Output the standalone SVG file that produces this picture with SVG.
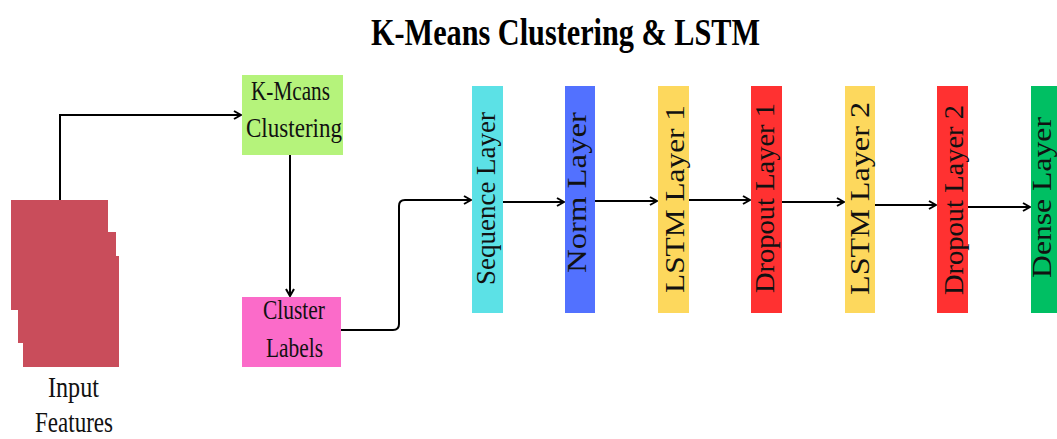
<svg xmlns="http://www.w3.org/2000/svg" width="1057" height="439" viewBox="0 0 1057 439">
  <defs>
    <marker id="arrow" viewBox="0 0 10 10" refX="9" refY="5" markerWidth="10" markerHeight="10" markerUnits="userSpaceOnUse" orient="auto">
      <path d="M2,1 L9,5 L2,9" fill="none" stroke="#000" stroke-width="2"/>
    </marker>
  </defs>
  <style>
    .lbl { font-family: "Liberation Serif", "Times New Roman", serif; fill: #111; }
    .title { font-family: "Liberation Serif", "Times New Roman", serif; font-weight: bold; font-size: 38px; fill: #000; }
    .conn { fill: none; stroke: #000; stroke-width: 2; marker-end: url(#arrow); }
    .vt { font-size: 27px; }
    .bx { font-size: 27px; }
  </style>

  <rect width="1057" height="439" fill="#fff"/>

  <text class="title" x="371" y="45" textLength="389" lengthAdjust="spacingAndGlyphs">K-Means Clustering &amp; LSTM</text>

  <!-- input feature stack -->
  <g id="input-features">
    <rect x="11" y="200" width="97" height="110" fill="#c94d5b"/>
    <rect x="18" y="232" width="98" height="111" fill="#c94d5b"/>
    <rect x="23" y="256" width="96" height="111" fill="#c94d5b"/>
    <text class="lbl" x="48" y="397" font-size="29" textLength="51" lengthAdjust="spacingAndGlyphs">Input</text>
    <text class="lbl" x="35" y="432" font-size="29" textLength="78" lengthAdjust="spacingAndGlyphs">Features</text>
  </g>

  <g id="kmeans">
    <rect x="242" y="75" width="101" height="80" fill="#b5f37b"/>
    <text class="lbl bx" x="251" y="100" textLength="79" lengthAdjust="spacingAndGlyphs">K-Mcans</text>
    <text class="lbl bx" x="246" y="137" textLength="96" lengthAdjust="spacingAndGlyphs">Clustering</text>
  </g>

  <g id="cluster-labels">
    <rect x="242" y="297" width="99" height="70" fill="#fb6bc9"/>
    <text class="lbl bx" x="263" y="319" textLength="62" lengthAdjust="spacingAndGlyphs">Cluster</text>
    <text class="lbl bx" x="266" y="357" textLength="57" lengthAdjust="spacingAndGlyphs">Labels</text>
  </g>

  <!-- network layers -->
  <g id="sequence-layer">
    <rect x="472" y="86" width="31" height="227" fill="#5ce1e6"/>
    <text class="lbl vt" transform="translate(495,285) rotate(-90)" textLength="173" lengthAdjust="spacingAndGlyphs">Sequence Layer</text>
  </g>
  <g id="norm-layer">
    <rect x="565" y="86" width="30" height="227" fill="#5271ff"/>
    <text class="lbl vt" transform="translate(586,273) rotate(-90)" textLength="161" lengthAdjust="spacingAndGlyphs">Norm Layer</text>
  </g>
  <g id="lstm-layer-1">
    <rect x="658" y="86" width="31" height="227" fill="#fdd85d"/>
    <text class="lbl vt" transform="translate(684,293) rotate(-90)" textLength="188" lengthAdjust="spacingAndGlyphs">LSTM Layer 1</text>
  </g>
  <g id="dropout-layer-1">
    <rect x="751" y="86" width="31" height="227" fill="#ff3131"/>
    <text class="lbl vt" transform="translate(774,293) rotate(-90)" textLength="190" lengthAdjust="spacingAndGlyphs">Dropout Layer 1</text>
  </g>
  <g id="lstm-layer-2">
    <rect x="845" y="86" width="30" height="227" fill="#fdd85d"/>
    <text class="lbl vt" transform="translate(869,295) rotate(-90)" textLength="193" lengthAdjust="spacingAndGlyphs">LSTM Layer 2</text>
  </g>
  <g id="dropout-layer-2">
    <rect x="937" y="86" width="31" height="227" fill="#ff3131"/>
    <text class="lbl vt" transform="translate(963,295) rotate(-90)" textLength="190" lengthAdjust="spacingAndGlyphs">Dropout Layer 2</text>
  </g>
  <g id="dense-layer">
    <rect x="1031" y="86" width="31" height="227" fill="#00bf63"/>
    <text class="lbl vt" transform="translate(1051,278) rotate(-90)" textLength="161" lengthAdjust="spacingAndGlyphs">Dense Layer</text>
  </g>

  <g id="connectors">
    <path class="conn" d="M60,200 V115 H241"/>
    <path class="conn" d="M290,155 V296"/>
    <path class="conn" d="M341,330 H393 Q399,330 399,324 V206 Q399,200 405,200 H471"/>
    <path class="conn" d="M503,202 H564"/>
    <path class="conn" d="M595,201 H657"/>
    <path class="conn" d="M689,200 H750"/>
    <path class="conn" d="M782,202 H844"/>
    <path class="conn" d="M875,205 H936"/>
    <path class="conn" d="M968,207 H1030"/>
  </g>
</svg>
